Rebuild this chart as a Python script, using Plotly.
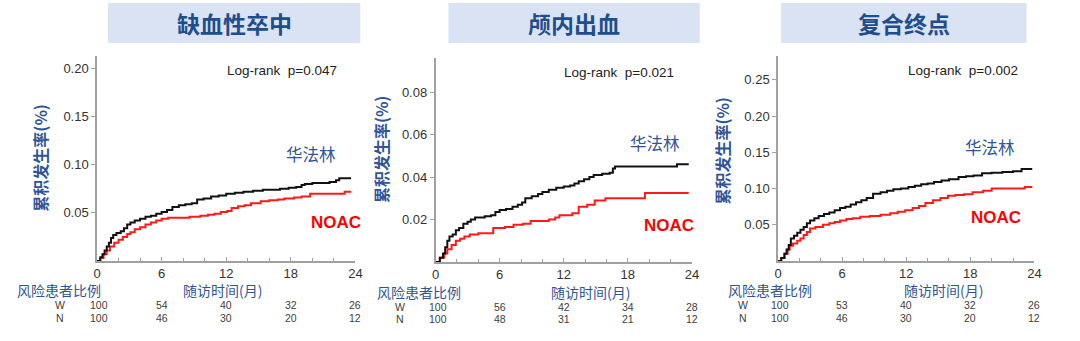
import plotly.graph_objects as go

W, H = 1080, 341

# ---------------- data ----------------
PANEL_TITLES = ["缺血性卒中", "颅内出血", "复合终点"]
LOGRANK = ["Log-rank  p=0.047", "Log-rank  p=0.021", "Log-rank  p=0.002"]
X_TICKS = [0, 6, 12, 18, 24]
Y_TICKS = [[0.05, 0.10, 0.15, 0.20], [0.02, 0.04, 0.06, 0.08], [0.05, 0.10, 0.15, 0.20, 0.25]]
Y_TOP = [0.213, 0.096, 0.283]

RISK_W = [[100, 54, 40, 32, 26], [100, 56, 42, 34, 28], [100, 53, 40, 32, 26]]
RISK_N = [[100, 46, 30, 20, 12], [100, 48, 31, 21, 12], [100, 46, 30, 20, 12]]

# (month, cumulative incidence)
ISCH_WARF = [(0, 0), (0.3, 0.004), (0.5, 0.007), (0.7, 0.011), (0.9, 0.015), (1.1, 0.019), (1.3, 0.024),
             (1.5, 0.027), (1.8, 0.029), (2.2, 0.031), (2.5, 0.034), (2.8, 0.038), (3.1, 0.040), (3.5, 0.042),
             (4.0, 0.044), (4.5, 0.046), (5.0, 0.047), (5.5, 0.049), (6.0, 0.051), (6.5, 0.053), (7.0, 0.056),
             (7.6, 0.058), (8.2, 0.059), (8.8, 0.060), (9.3, 0.064), (9.9, 0.065), (10.6, 0.067), (11.3, 0.068),
             (12.0, 0.070), (12.8, 0.071), (13.6, 0.072), (14.5, 0.073), (15.4, 0.074), (17.0, 0.075),
             (17.8, 0.076), (18.5, 0.077), (19.0, 0.079), (19.3, 0.080), (20.0, 0.081), (21.6, 0.082),
             (22.2, 0.084), (22.5, 0.086), (23.6, 0.086)]
ISCH_NOAC = [(0, 0), (0.3, 0.003), (0.6, 0.007), (0.9, 0.011), (1.2, 0.015), (1.6, 0.019), (2.0, 0.022),
             (2.4, 0.025), (2.8, 0.028), (3.1, 0.030), (3.5, 0.033), (4.0, 0.035), (4.5, 0.038), (5.0, 0.040),
             (5.5, 0.042), (6.0, 0.044), (6.6, 0.045), (8.6, 0.046), (9.6, 0.047), (10.3, 0.048), (10.9, 0.049),
             (11.5, 0.051), (12.1, 0.052), (12.5, 0.055), (13.1, 0.057), (13.7, 0.058), (14.3, 0.060),
             (15.2, 0.062), (16.0, 0.063), (16.8, 0.064), (17.4, 0.065), (18.3, 0.066), (19.0, 0.067),
             (19.8, 0.070), (23.0, 0.072), (23.6, 0.072)]
ICH_WARF = [(0, 0), (0.4, 0.002), (0.7, 0.004), (0.9, 0.007), (1.1, 0.010), (1.3, 0.012), (1.6, 0.013),
            (1.9, 0.015), (2.2, 0.016), (2.6, 0.018), (3.0, 0.019), (3.3, 0.020), (3.7, 0.021), (4.6, 0.0215),
            (5.2, 0.022), (5.6, 0.0235), (6.0, 0.0245), (6.6, 0.025), (7.2, 0.026), (7.7, 0.027), (8.1, 0.028),
            (8.4, 0.030), (9.0, 0.031), (9.6, 0.032), (10.0, 0.033), (10.6, 0.034), (11.3, 0.035),
            (12.0, 0.0355), (12.6, 0.036), (13.0, 0.037), (13.4, 0.038), (13.9, 0.039), (14.4, 0.040),
            (14.8, 0.041), (15.6, 0.0415), (16.3, 0.042), (16.6, 0.044), (16.8, 0.045), (22.6, 0.046),
            (23.7, 0.046)]
ICH_NOAC = [(0, 0), (0.4, 0.002), (0.8, 0.004), (1.1, 0.006), (1.5, 0.008), (1.9, 0.010), (2.3, 0.011),
            (2.7, 0.012), (3.2, 0.013), (4.0, 0.0135), (5.4, 0.016), (6.5, 0.0165), (7.3, 0.0175), (8.2, 0.018),
            (8.9, 0.0193), (10.6, 0.020), (11.2, 0.021), (11.6, 0.022), (12.8, 0.023), (13.4, 0.026),
            (14.2, 0.027), (14.9, 0.029), (15.9, 0.030), (19.6, 0.0325), (23.7, 0.0325)]
COMP_WARF = [(0, 0), (0.3, 0.004), (0.6, 0.010), (0.8, 0.016), (1.0, 0.022), (1.2, 0.031), (1.5, 0.035),
             (1.8, 0.039), (2.1, 0.043), (2.4, 0.047), (2.7, 0.052), (3.0, 0.056), (3.4, 0.059), (3.8, 0.062),
             (4.3, 0.065), (4.8, 0.067), (5.3, 0.070), (5.8, 0.073), (6.3, 0.075), (6.8, 0.078), (7.3, 0.081),
             (7.8, 0.084), (8.3, 0.087), (8.9, 0.093), (9.6, 0.095), (10.2, 0.097), (10.8, 0.099), (11.5, 0.100),
             (12.2, 0.102), (12.8, 0.104), (13.4, 0.106), (14.0, 0.107), (14.6, 0.109), (15.3, 0.111),
             (16.0, 0.113), (16.9, 0.116), (17.6, 0.117), (18.3, 0.118), (19.1, 0.121), (20.0, 0.122),
             (21.0, 0.123), (22.0, 0.124), (22.8, 0.127), (23.8, 0.127)]
COMP_NOAC = [(0, 0), (0.3, 0.004), (0.6, 0.010), (0.9, 0.016), (1.1, 0.021), (1.4, 0.024), (1.8, 0.028),
             (2.1, 0.031), (2.4, 0.036), (2.7, 0.040), (3.0, 0.045), (3.5, 0.047), (4.2, 0.050), (4.8, 0.052),
             (5.3, 0.054), (5.8, 0.056), (6.4, 0.058), (7.0, 0.059), (7.7, 0.061), (8.6, 0.062), (9.6, 0.064),
             (10.5, 0.066), (11.2, 0.068), (11.9, 0.070), (12.6, 0.073), (13.2, 0.076), (13.8, 0.080),
             (14.5, 0.084), (15.2, 0.087), (15.9, 0.090), (16.6, 0.091), (17.4, 0.092), (18.2, 0.095),
             (19.2, 0.097), (20.0, 0.100), (23.1, 0.102), (23.8, 0.102)]

CURVES = [(ISCH_WARF, ISCH_NOAC), (ICH_WARF, ICH_NOAC), (COMP_WARF, COMP_NOAC)]

# ---------------- layout geometry (pixels) ----------------
X_DOM = [(94, 355), (436, 695), (782, 1041)]
Y_DOM = [(261, 56), (262, 58), (261, 56)]
TITLE_BOX = [(105, 360), (449, 703), (785, 1033)]
YLAB = [(36, 158), (381, 149), (725, 151)]
LOGRANK_POS = [(281, 70), (621, 72), (969, 70)]
WARF_POS = [(310, 154), (658, 143), (996, 147)]
NOAC_POS = [(335, 222), (672, 225), (1002, 217)]
RISK_LBL = [(56, 290), (419, 291.5), (774, 290)]
XTITLE = [(221, 290), (593, 291.5), (949, 290)]
WN_X = [57, 400, 747]
ROW_Y = [(305, 318), (306.5, 319), (305, 318)]


def px(x):
    return x / W


def py(y):
    return 1 - y / H


CJK = "Noto Sans CJK SC"
LAT = "Liberation Sans, Arial, sans-serif"
BLUE = "#2f5597"
TITLE_BLUE = "#1f4e8c"
AX = "#a0a0a0"

fig = go.Figure()
layout = dict(width=W, height=H, margin=dict(l=0, r=0, t=0, b=0),
              paper_bgcolor="white", plot_bgcolor="white", showlegend=False)
shapes, annots = [], []


def note(text, x, y, size, color, family, xref="paper", **kw):
    annots.append(dict(text=text, xref=xref, yref="paper", x=x, y=y, xanchor="center",
                       yanchor="middle", showarrow=False, borderpad=0,
                       font=dict(family=family, size=size, color=color), **kw))


for i in range(3):
    sfx = "" if i == 0 else str(i + 1)
    xa, ya = "x" + sfx, "y" + sfx
    warf, noac = CURVES[i]
    fig.add_trace(go.Scatter(x=[p[0] for p in noac], y=[p[1] for p in noac], mode="lines",
                             line=dict(color="#ff1a1a", width=2, shape="hv"), xaxis=xa, yaxis=ya))
    fig.add_trace(go.Scatter(x=[p[0] for p in warf], y=[p[1] for p in warf], mode="lines",
                             line=dict(color="#111111", width=2, shape="hv"), xaxis=xa, yaxis=ya))

    layout["xaxis" + sfx] = dict(
        domain=[px(X_DOM[i][0]), px(X_DOM[i][1])], range=[0, 24], anchor=ya,
        tickvals=X_TICKS, ticktext=[str(v) for v in X_TICKS],
        showline=True, linecolor=AX, linewidth=1.5, ticks="inside", ticklen=4, tickcolor=AX,
        tickwidth=1, showgrid=False, zeroline=False,
        tickfont=dict(family=LAT, size=13, color="#333333"),
        minor=dict(dtick=2, tick0=0, ticks="inside", ticklen=3, tickcolor=AX, showgrid=False),
    )
    layout["yaxis" + sfx] = dict(
        domain=[py(Y_DOM[i][0]), py(Y_DOM[i][1])], range=[0, Y_TOP[i]], anchor=xa,
        tickvals=Y_TICKS[i], ticktext=["%.2f" % v for v in Y_TICKS[i]],
        showline=True, linecolor=AX, linewidth=1.5, ticks="outside", ticklen=4, tickcolor=AX,
        tickwidth=1, showgrid=False, zeroline=False,
        tickfont=dict(family=LAT, size=13, color="#333333"),
    )

    # title box
    bx0, bx1 = TITLE_BOX[i]
    shapes.append(dict(type="rect", xref="paper", yref="paper", x0=px(bx0), x1=px(bx1),
                       y0=py(43), y1=py(3), fillcolor="#dae3f3", line=dict(width=0), layer="below"))
    note("<b>%s</b>" % PANEL_TITLES[i], px((bx0 + bx1) / 2), py(23), 23, TITLE_BLUE, CJK)
    note("<b>累积发生率(%)</b>", px(YLAB[i][0]), py(YLAB[i][1]), 16, BLUE, CJK, textangle=-90)
    note(LOGRANK[i], px(LOGRANK_POS[i][0]), py(LOGRANK_POS[i][1]), 13.5, "#222222", LAT)
    note("华法林", px(WARF_POS[i][0]), py(WARF_POS[i][1]), 16.5, BLUE, CJK)
    note("<b>NOAC</b>", px(NOAC_POS[i][0]), py(NOAC_POS[i][1]), 17, "#ff0000", LAT)
    note("风险患者比例", px(RISK_LBL[i][0]), py(RISK_LBL[i][1]), 14, BLUE, CJK)
    note("随访时间(月)", px(XTITLE[i][0]), py(XTITLE[i][1]), 14, BLUE, CJK)
    for lbl, ry in zip(["W", "N"], ROW_Y[i]):
        note(lbl, px(WN_X[i]), py(ry), 10.5, "#404040", LAT)
    for row, ry in zip([RISK_W[i], RISK_N[i]], ROW_Y[i]):
        for t, n in zip(X_TICKS, row):
            note(str(n), t, py(ry), 10.5, "#404040", LAT, xref=xa, xshift=2 if t == 0 else 0)

layout["shapes"] = shapes
layout["annotations"] = annots
fig.update_layout(**layout)
fig.write_html("out.html")
